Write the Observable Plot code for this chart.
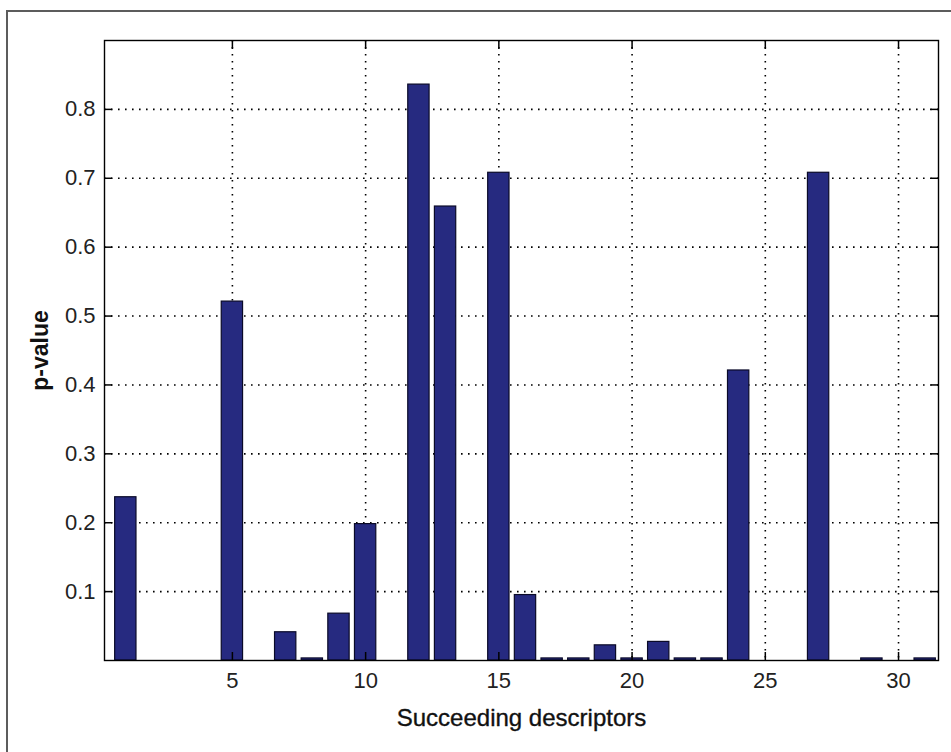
<!DOCTYPE html>
<html><head><meta charset="utf-8">
<script src="https://cdn.jsdelivr.net/npm/d3@7"></script>
<script src="https://cdn.jsdelivr.net/npm/@observablehq/plot@0.6"></script>
<style>
html,body{margin:0;padding:0;background:#fff;overflow:hidden}
#wrap{position:relative;width:951px;height:752px;overflow:hidden}
#border{position:absolute;left:6px;top:10px;width:1000px;height:1000px;border-top:2px solid #5c5c5c;border-left:2px solid #5c5c5c;pointer-events:none}
#chart{position:absolute;left:0;top:0}
</style></head><body>
<div id="wrap"><div id="border"></div><div id="chart"></div></div>
<script>
const descriptors = [1,2,3,4,5,6,7,8,9,10,11,12,13,14,15,16,17,18,19,20,21,22,23,24,25,26,27,28,29,30,31];
const pValues = [0.237,0,0,0,0.521,0,0.041,0.003,0.068,0.198,0,0.836,0.659,0,0.708,0.095,0.003,0.003,0.022,0.003,0.027,0.003,0.003,0.421,0,0,0.708,0,0.003,0,0.003];
const xTicks = [5,10,15,20,25,30];
const yTicks = [0.1,0.2,0.3,0.4,0.5,0.6,0.7,0.8];
const xLabel = "Succeeding descriptors";
const yLabel = "p-value";

const data = descriptors.map((d, i) => ({d, p: pValues[i]})).filter(r => r.p > 0);
const font = '"Liberation Sans", Arial, Helvetica, sans-serif';
const tickStyle = {fill: "none", stroke: "#000", strokeWidth: 1.5, tickSize: 8, label: null};

const chart = Plot.plot({
  width: 951, height: 752,
  marginLeft: 104, marginRight: 13, marginTop: 40, marginBottom: 92,
  style: {fontFamily: font, background: "transparent", color: "#1a1a1a"},
  x: {domain: [0.2, 31.5]},
  y: {domain: [0, 0.9]},
  marks: [
    Plot.ruleY(yTicks, {stroke: "#000", strokeWidth: 1.6, strokeDasharray: "1.6,5.4"}),
    Plot.ruleX(xTicks, {stroke: "#000", strokeWidth: 1.6, strokeDasharray: "1.6,5.4"}),
    Plot.rectY(data, {x1: r => r.d - 0.4, x2: r => r.d + 0.4, y: "p", fill: "#262a80", stroke: "#0a0a28", strokeWidth: 1.2}),
    Plot.frame({stroke: "#000", strokeWidth: 1.4}),
    // inward tick marks on all four sides
    Plot.axisY(yTicks, {...tickStyle, anchor: "left", dx: 8}),
    Plot.axisY(yTicks, {...tickStyle, anchor: "right", dx: -8}),
    Plot.axisX(xTicks, {...tickStyle, anchor: "bottom", dy: -8}),
    Plot.axisX(xTicks, {...tickStyle, anchor: "top", dy: 8}),
    // tick labels
    Plot.axisY(yTicks, {anchor: "left", tickSize: 0, tickPadding: 9, tickFormat: d3.format(".1f"), fontSize: 22, fill: "#222", label: null}),
    Plot.axisX(xTicks, {anchor: "bottom", tickSize: 0, tickPadding: 12, fontSize: 22, fill: "#222", label: null}),
    Plot.text([xLabel], {frameAnchor: "bottom", dy: 58, fontSize: 24, fill: "#111", stroke: "#111", strokeWidth: 0.35, textAnchor: "middle", lineAnchor: "middle"}),
    Plot.text([yLabel], {frameAnchor: "left", dx: -64, rotate: -90, fontSize: 23, fontWeight: "bold", fill: "#111", textAnchor: "middle", lineAnchor: "middle"})
  ]
});
document.getElementById("chart").appendChild(chart);
</script>
</body></html>
